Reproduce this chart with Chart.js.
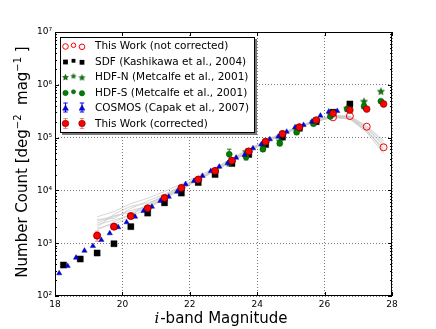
<!DOCTYPE html>
<html><head><meta charset="utf-8">
<script src="https://cdn.jsdelivr.net/npm/chart.js@4/dist/chart.umd.min.js"></script>
<style>html,body{margin:0;padding:0;background:#fff;}#wrap{width:436px;height:329px;position:relative;}</style>
</head><body><div id="wrap"><canvas id="c" width="436" height="329"></canvas></div>
<script>
// ---------- data ----------
const magRed = [19.25,19.75,20.25,20.75,21.25,21.75,22.25,22.75,23.25,23.75,24.25,24.75,25.25,25.75,26.25,26.75,27.25,27.75];
const countCorrected = [1390,2060,3270,4570,7180,11100,16000,23400,36300,54600,83600,117000,157000,215000,288000,333000,347000,433000];
const errCorrected = [300,250,300,350,450,600,800,1000,1500,2000,3000,4000,5000,7000,9000,12000,15000,20000];
const countNotCorrected = [1390,2060,3270,4570,7180,11100,16000,23400,36300,54600,83600,117000,157000,209000,242000,256000,161000,65500];

const magSDF = [18.25,18.75,19.25,19.75,20.25,20.75,21.25,21.75,22.25,22.75,23.25,23.75,24.25,24.75,25.25,25.75,26.25,26.75];
const countSDF = [386,502,652,977,2060,3720,5820,8910,14100,20000,32400,47900,74100,102000,150000,200000,302000,433000];

const magCOSMOS = [18.125,18.375,18.625,18.875,19.125,19.375,19.625,19.875,20.125,20.375,20.625,20.875,21.125,21.375,21.625,21.875,22.125,22.375,22.625,22.875,23.125,23.375,23.625,23.875,24.125,24.375,24.625,24.875,25.125,25.375,25.625,25.875,26.125,26.375];
const countCOSMOS = [269,370,531,721,885,1150,1540,2000,2490,3180,4070,4910,6300,7600,9440,13100,15100,18800,23300,28100,32600,41600,46800,62700,74600,92900,104000,129000,157000,173000,200000,260000,310000,319000];

const magHDF = [23.17,23.67,24.17,24.67,25.17,25.67,26.17,26.67,27.17,27.67];
const countHDFS = [48300,42700,60300,77600,126000,182000,251000,347000,389000,490000];
const errHDFS = [12000,5000,6000,7000,10000,12000,15000,20000,25000,30000];
const countHDFN = [32400,53700,67600,85100,141000,200000,275000,355000,479000,741000];

const magSim = [19.25,19.75,20.25,20.75,21.25,21.75,22.25,22.75,23.25,23.75,24.25,24.75,25.25,25.75,26.25,26.75,27.25,27.75];
const sim1 = [3160,3980,5620,7080,9550,13200,18600,26900,40700,60300,89100,123000,166000,219000,263000,257000,166000,89100];
const sim2 = [2400,3160,4170,5010,7240,11000,16200,23400,36300,53700,81300,115000,155000,204000,245000,234000,132000,60300];
const sim3 = [2820,2950,4570,6310,8510,12000,17400,25700,39800,57500,87100,120000,162000,214000,257000,245000,151000,75900];
const sim4 = [1780,2510,3550,4790,7080,10700,15500,23400,35500,53700,83200,115000,155000,204000,240000,224000,126000,50100];
const sim5 = [2240,2750,3390,5500,8130,11700,17000,25100,38900,58900,87100,120000,162000,214000,257000,251000,158000,83200];
const sim6 = [2000,3550,5010,5750,7590,11200,16600,24000,37200,55000,83200,117000,158000,209000,245000,229000,138000,56200];
const sim7 = [2630,3310,3800,5130,7940,11500,16200,24500,38000,56200,85100,117000,158000,209000,251000,240000,145000,70800];
const sim8 = [1910,2290,3160,4570,6920,10500,15800,22900,36300,55000,81300,115000,155000,204000,245000,234000,135000,63100];
const simCurves = [sim1,sim2,sim3,sim4,sim5,sim6,sim7,sim8];

const xTickValues = [18,20,22,24,26,28];
const yTickValues = [100,1000,10000,100000,1000000,10000000];
const yTickLabels = ['10\u00B2','10\u00B3','10\u2074','10\u2075','10\u2076','10\u2077'];

const legendLabels = ['This Work (not corrected)','SDF (Kashikawa et al., 2004)','HDF-N (Metcalfe et al., 2001)','HDF-S (Metcalfe et al., 2001)','COSMOS (Capak et al., 2007)','This Work (corrected)'];
const xTitleItalic = 'i';
const xTitleRest = '-band Magnitude';
const yTitleParts = [['Number Count [deg',0],['\u22122',1],['  mag',0],['\u22121',1],[' ]',0]];

// ---------- helpers ----------
const pts = (xs, ys) => xs.map((x, i) => ({x: x, y: ys[i]}));

function makeStar(r, fill) {
  const s = Math.ceil(r * 2 + 2);
  const cv = document.createElement('canvas');
  cv.width = s; cv.height = s;
  const c = cv.getContext('2d');
  c.translate(s / 2, s / 2);
  c.beginPath();
  for (let k = 0; k < 10; k++) {
    const rr = k % 2 === 0 ? r : r * 0.45;
    const a = -Math.PI / 2 + k * Math.PI / 5;
    c.lineTo(rr * Math.cos(a), rr * Math.sin(a));
  }
  c.closePath();
  c.fillStyle = fill; c.fill();
  c.lineWidth = 0.4; c.strokeStyle = '#003300'; c.stroke();
  return cv;
}
const starImg = makeStar(3.8, '#008000');
const starLeg = makeStar(3.2, '#008000');
const starLegSmall = makeStar(2.7, '#008000');

const datasets = [];
simCurves.forEach(arr => datasets.push({
  type: 'line', data: pts(magSim, arr), showLine: true, pointRadius: 0,
  borderColor: 'rgba(200,200,200,0.75)', borderWidth: 1, tension: 0, fill: false, order: 20
}));
datasets.push({data: pts(magRed, countNotCorrected), pointStyle: 'circle', pointRadius: 3.5,
  backgroundColor: 'rgba(0,0,0,0)', borderColor: '#ff0000', pointBorderWidth: 1, order: 6});
datasets.push({data: pts(magSDF, countSDF), pointStyle: 'rect', pointRadius: 4.4,
  backgroundColor: '#000', borderColor: '#000', pointBorderWidth: 0.3, order: 5});
datasets.push({data: pts(magHDF, countHDFN), pointStyle: starImg, order: 4});
datasets.push({data: pts(magHDF, countHDFS), pointStyle: 'circle', pointRadius: 3,
  backgroundColor: '#008000', borderColor: '#003300', pointBorderWidth: 0.4, order: 3,
  errors: errHDFS, errColor: '#008000'});
datasets.push({data: pts(magCOSMOS, countCOSMOS), pointStyle: 'triangle', pointRadius: 3.1,
  backgroundColor: '#0000ff', borderColor: '#000044', pointBorderWidth: 0.4, order: 2});
datasets.push({data: pts(magRed, countCorrected), pointStyle: 'circle', pointRadius: 3.4,
  backgroundColor: '#ff0000', borderColor: '#440000', pointBorderWidth: 0.5, order: 1,
  errors: errCorrected, errColor: '#ff8080'});

// ---------- drawing helpers ----------
function marker(ctx, type, x, y, r, fill, stroke, lw) {
  ctx.save();
  ctx.beginPath();
  if (type === 'circle') ctx.arc(x, y, r, 0, Math.PI * 2);
  else if (type === 'rect') ctx.rect(x - r, y - r, 2 * r, 2 * r);
  else if (type === 'triangle') {
    ctx.moveTo(x, y - r); ctx.lineTo(x + r * 0.95, y + r * 0.7); ctx.lineTo(x - r * 0.95, y + r * 0.7); ctx.closePath();
  }
  if (fill) { ctx.fillStyle = fill; ctx.fill(); }
  if (stroke) { ctx.lineWidth = lw; ctx.strokeStyle = stroke; ctx.stroke(); }
  ctx.restore();
}
function errBar(ctx, x, y1, y2, color, cap) {
  ctx.save();
  ctx.strokeStyle = color; ctx.lineWidth = 1;
  ctx.beginPath();
  ctx.moveTo(x, y1); ctx.lineTo(x, y2);
  ctx.moveTo(x - cap, y1); ctx.lineTo(x + cap, y1);
  ctx.moveTo(x - cap, y2); ctx.lineTo(x + cap, y2);
  ctx.stroke();
  ctx.restore();
}

const decor = {
  id: 'decor',
  beforeDatasetsDraw(chart) {
    const ctx = chart.ctx, ys = chart.scales.y;
    chart.data.datasets.forEach((ds, di) => {
      if (!ds.errors) return;
      const meta = chart.getDatasetMeta(di);
      meta.data.forEach((el, i) => {
        const v = ds.data[i].y, e = ds.errors[i];
        errBar(ctx, el.x, ys.getPixelForValue(v + e), ys.getPixelForValue(Math.max(v - e, 1)), ds.errColor, 2.2);
      });
    });
  },
  afterDraw(chart) {
    const ctx = chart.ctx, a = chart.chartArea, xs = chart.scales.x, ys = chart.scales.y;
    ctx.save();
    // frame
    ctx.strokeStyle = '#000'; ctx.lineWidth = 1;
    ctx.strokeRect(a.left + 0.5, a.top + 0.5, a.right - a.left - 1, a.bottom - a.top - 1);
    // x ticks (inside, bottom & top)
    ctx.beginPath();
    xTickValues.forEach(v => {
      const px = Math.round(xs.getPixelForValue(v)) + 0.5;
      ctx.moveTo(px, a.bottom); ctx.lineTo(px, a.bottom - 4);
      ctx.moveTo(px, a.top); ctx.lineTo(px, a.top + 4);
    });
    // y ticks major + minor
    yTickValues.forEach((v, idx) => {
      const py = Math.round(ys.getPixelForValue(v)) + 0.5;
      ctx.moveTo(a.left, py); ctx.lineTo(a.left + 4, py);
      ctx.moveTo(a.right, py); ctx.lineTo(a.right - 4, py);
      if (idx < yTickValues.length - 1) {
        for (let k = 2; k <= 9; k++) {
          const pm = Math.round(ys.getPixelForValue(v * k)) + 0.5;
          ctx.moveTo(a.left, pm); ctx.lineTo(a.left + 2, pm);
          ctx.moveTo(a.right, pm); ctx.lineTo(a.right - 2, pm);
        }
      }
    });
    ctx.stroke();

    // titles
    ctx.fillStyle = '#000';
    ctx.textBaseline = 'alphabetic';
    ctx.font = 'italic 15px "DejaVu Serif"';
    const w1 = ctx.measureText(xTitleItalic).width;
    ctx.font = '15px "DejaVu Sans"';
    const w2 = ctx.measureText(xTitleRest).width;
    const cx = (a.left + a.right) / 2 - 3;
    let sx = cx - (w1 + w2) / 2;
    ctx.font = 'italic 15px "DejaVu Serif"';
    ctx.fillText(xTitleItalic, sx, 323);
    ctx.font = '15px "DejaVu Sans"';
    ctx.fillText(xTitleRest, sx + w1 + 1, 323);

    // y title rotated
    ctx.save();
    ctx.translate(27, (a.top + a.bottom) / 2 - 2);
    ctx.rotate(-Math.PI / 2);
    let tot = 0;
    yTitleParts.forEach(p => { ctx.font = (p[1] ? '10px' : '15px') + ' "DejaVu Sans"'; tot += ctx.measureText(p[0]).width; });
    let tx = -tot / 2;
    yTitleParts.forEach(p => {
      ctx.font = (p[1] ? '10px' : '15px') + ' "DejaVu Sans"';
      ctx.fillText(p[0], tx, p[1] ? -6 : 0);
      tx += ctx.measureText(p[0]).width;
    });
    ctx.restore();

    // legend
    const lx = 60, ly = 37, lw = 195, lh = 96;
    ctx.fillStyle = '#777';
    ctx.fillRect(lx + 2, ly + 2, lw, lh);
    ctx.fillStyle = '#fff';
    ctx.fillRect(lx, ly, lw, lh);
    ctx.strokeStyle = '#000'; ctx.lineWidth = 1;
    ctx.strokeRect(lx + 0.5, ly + 0.5, lw - 1, lh - 1);
    const rowY = [46, 61.5, 77, 92.5, 108, 123.5];
    ctx.font = '10.5px "DejaVu Sans"';
    ctx.textBaseline = 'middle';
    ctx.fillStyle = '#000';
    legendLabels.forEach((t, i) => ctx.fillText(t, 95, rowY[i] + 0.5));
    const mx3 = [65.5, 73.5, 82];
    const dy3 = [0.5, -0.7, 0.8];
    const sz3 = [1, 0.8, 1];
    mx3.forEach((x, k) => marker(ctx, 'circle', x, rowY[0] + dy3[k], 2.8 * sz3[k], null, '#ff0000', 1));
    mx3.forEach((x, k) => marker(ctx, 'rect', x, rowY[1] + dy3[k], 2.4 * sz3[k], '#000', null, 0));
    mx3.forEach((x, k) => { const im = k === 1 ? starLegSmall : starLeg; ctx.drawImage(im, x - im.width / 2, rowY[2] + dy3[k] - im.height / 2); });
    mx3.forEach((x, k) => marker(ctx, 'circle', x, rowY[3] + dy3[k], 2.7 * sz3[k], '#008000', '#003300', 0.4));
    [65.5, 82].forEach(x => {
      errBar(ctx, x, rowY[4] - 5, rowY[4] + 4, '#0000ff', 2.2);
      marker(ctx, 'triangle', x, rowY[4], 3.1, '#0000ff', '#000044', 0.4);
      errBar(ctx, x, rowY[5] - 5, rowY[5] + 5, '#ff8080', 2.2);
      marker(ctx, 'circle', x, rowY[5], 3.3, '#ff0000', '#440000', 0.5);
    });
    ctx.restore();
  }
};

Chart.defaults.font.family = '"DejaVu Sans"';
Chart.defaults.color = '#000';

new Chart(document.getElementById('c'), {
  type: 'scatter',
  data: {datasets: datasets},
  plugins: [decor],
  options: {
    responsive: false, animation: false, devicePixelRatio: 1, events: [],
    layout: {padding: {top: 32, right: 44, left: 0, bottom: 0}},
    plugins: {legend: {display: false}, tooltip: {enabled: false}},
    scales: {
      x: {
        type: 'linear', min: 18, max: 28,
        afterBuildTicks: s => { s.ticks = xTickValues.map(v => ({value: v})); },
        afterFit: s => { s.height = 33; },
        ticks: {font: {size: 9}, color: '#000', padding: 3, maxRotation: 0, callback: v => String(v)},
        grid: {color: '#777', lineWidth: 1, drawTicks: false},
        border: {display: false, dash: [1, 2]}
      },
      y: {
        type: 'logarithmic', min: 100, max: 10000000,
        afterBuildTicks: s => { s.ticks = yTickValues.map(v => ({value: v})); },
        afterFit: s => { s.width = 55; },
        ticks: {font: {size: 9}, color: '#000', padding: 3, callback: v => yTickLabels[yTickValues.indexOf(v)]},
        grid: {color: '#777', lineWidth: 1, drawTicks: false},
        border: {display: false, dash: [1, 2]}
      }
    }
  }
});
</script></body></html>
